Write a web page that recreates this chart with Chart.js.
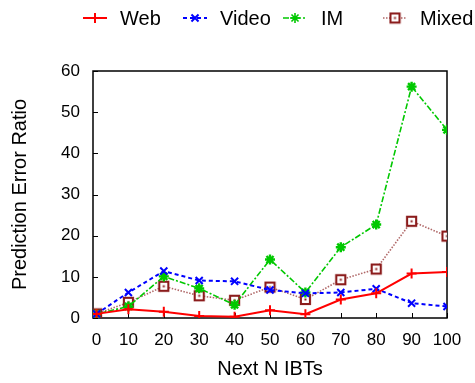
<!DOCTYPE html>
<html>
<head>
<meta charset="utf-8">
<script src="https://cdn.jsdelivr.net/npm/chart.js@4/dist/chart.umd.min.js"></script>
<style>
  html, body { margin: 0; padding: 0; background: #fff; }
  canvas { display: block; }
</style>
</head>
<body>
<canvas id="c" width="475" height="383"></canvas>
<script>
// Look-ahead window sizes (N) and the tick marks along the x axis
const nValues = [1, 10, 20, 30, 40, 50, 60, 70, 80, 90, 100];
const xTickValues = [1, 10, 20, 30, 40, 50, 60, 70, 80, 90, 100];
const xTickLabels = ['0', '10', '20', '30', '40', '50', '60', '70', '80', '90', '100'];
const yTickValues = [0, 10, 20, 30, 40, 50, 60];

// Prediction error ratio per traffic type
const webErr   = [1.0, 2.1, 1.5, 0.5, 0.3, 1.9, 0.9, 4.5, 6.0, 10.8, 11.2];
const videoErr = [1.0, 6.2, 11.4, 9.1, 8.9, 6.8, 6.0, 6.2, 7.1, 3.6, 2.8];
const imErr    = [1.0, 2.8, 10.1, 7.2, 3.2, 14.2, 6.2, 17.2, 22.7, 56.2, 45.7];
const mixedErr = [1.0, 3.8, 7.7, 5.4, 4.3, 7.5, 4.5, 9.3, 11.9, 23.5, 19.9];

const FONT = '"Liberation Sans", Arial, Helvetica, sans-serif';
const MIXED_DARK = '#8b1c1c';

// Hollow square with a centre dot, used for the Mixed series
function boxDotMarker() {
  const s = 13;
  const cv = document.createElement('canvas');
  cv.width = s; cv.height = s;
  const g = cv.getContext('2d');
  g.strokeStyle = MIXED_DARK;
  g.lineWidth = 2.2;
  g.strokeRect(2, 2, s - 4, s - 4);
  g.fillStyle = '#fff';
  g.fillRect(3.1, 3.1, s - 6.2, s - 6.2);
  g.fillStyle = MIXED_DARK;
  g.fillRect(5.5, 5.5, 2, 2);
  return cv;
}
const mixedMarker = boxDotMarker();

const pts = ys => nValues.map((x, i) => ({ x, y: ys[i] }));

const datasets = [
  { label: 'Web', data: pts(webErr), borderColor: '#ff0000', backgroundColor: '#ff0000',
    borderWidth: 2, pointStyle: 'cross', pointRadius: 5, pointBorderWidth: 2 },
  { label: 'Video', data: pts(videoErr), borderColor: '#0000ff', backgroundColor: '#0000ff',
    borderWidth: 2, borderDash: [4, 3], pointStyle: 'crossRot', pointRadius: 5, pointBorderWidth: 2 },
  { label: 'IM', data: pts(imErr), borderColor: '#00c800', backgroundColor: '#00c800',
    borderWidth: 1.6, borderDash: [6, 2, 2, 2], pointStyle: 'star', pointRadius: 5, pointBorderWidth: 2.4 },
  { label: 'Mixed', data: pts(mixedErr), borderColor: '#b06868', backgroundColor: MIXED_DARK,
    borderWidth: 1.6, borderDash: [1.5, 1.5], pointStyle: mixedMarker, pointRadius: 6 }
];

// Frame, inward tick marks and the key row above the plot
const framePlugin = {
  id: 'frame',
  beforeDatasetsDraw(chart) {
    const { ctx, chartArea: a, scales } = chart;
    ctx.save();
    ctx.strokeStyle = '#000';
    ctx.lineWidth = 1;
    ctx.beginPath();
    xTickValues.forEach(v => {
      const x = Math.round(scales.x.getPixelForValue(v)) + 0.5;
      ctx.moveTo(x, a.bottom); ctx.lineTo(x, a.bottom - 5);
    });
    yTickValues.forEach(v => {
      const y = Math.round(scales.y.getPixelForValue(v)) + 0.5;
      ctx.moveTo(a.left, y); ctx.lineTo(a.left + 5, y);
    });
    ctx.stroke();
    ctx.lineWidth = 1.5;
    ctx.strokeRect(a.left, a.top, a.right - a.left, a.bottom - a.top);
    ctx.restore();
  },
  afterDraw(chart) {
    const { ctx } = chart;
    const y = 18;
    ctx.save();
    chart.data.datasets.forEach((ds, i) => {
      const x0 = 83 + i * 100, x1 = x0 + 24;
      ctx.strokeStyle = ds.borderColor;
      ctx.lineWidth = ds.borderWidth;
      ctx.setLineDash(ds.borderDash || []);
      ctx.beginPath();
      ctx.moveTo(x0, y); ctx.lineTo(x1, y);
      ctx.stroke();
      ctx.setLineDash([]);
      Chart.helpers.drawPoint(ctx, {
        pointStyle: ds.pointStyle, radius: ds.pointRadius, borderWidth: ds.pointBorderWidth || 1
      }, (x0 + x1) / 2, y);
      ctx.fillStyle = '#000';
      ctx.font = '20px ' + FONT;
      ctx.textBaseline = 'middle';
      ctx.textAlign = 'left';
      ctx.fillText(ds.label, x1 + 13 + (i === 2 ? 1 : 0), y + 1);
    });
    ctx.restore();
  }
};

// drawPoint needs stroke/fill colours set per series for the key markers
const origDrawPoint = Chart.helpers.drawPoint;

new Chart(document.getElementById('c'), {
  type: 'line',
  data: { datasets },
  options: {
    responsive: false,
    devicePixelRatio: 1,
    animation: false,
    layout: { padding: { left: 0, right: 28, top: 71, bottom: 0 } },
    plugins: { legend: { display: false }, tooltip: { enabled: false } },
    elements: { line: { tension: 0 } },
    scales: {
      x: {
        type: 'linear', min: 0, max: 100,
        afterFit: s => { s.height = 65; },
        afterBuildTicks: s => { s.ticks = xTickValues.map(v => ({ value: v })); },
        grid: { display: false, drawTicks: false },
        border: { display: false },
        ticks: {
          color: '#000', font: { family: FONT, size: 17 }, padding: 12, maxRotation: 0, autoSkip: false,
          callback: v => { const i = xTickValues.indexOf(v); return i >= 0 ? xTickLabels[i] : ''; }
        },
        title: { display: true, text: 'Next N IBTs', color: '#000',
          font: { family: FONT, size: 20 }, padding: { top: 0, bottom: 2 } }
      },
      y: {
        min: 0, max: 60,
        afterFit: s => { s.width = 93; },
        afterBuildTicks: s => { s.ticks = yTickValues.map(v => ({ value: v })); },
        grid: { display: false, drawTicks: false },
        border: { display: false },
        ticks: { color: '#000', font: { family: FONT, size: 17 }, padding: 13 },
        title: { display: true, text: 'Prediction Error Ratio', color: '#000',
          font: { family: FONT, size: 20 }, padding: { top: 8, bottom: 0 } }
      }
    }
  },
  plugins: [framePlugin]
});
</script>
</body>
</html>
